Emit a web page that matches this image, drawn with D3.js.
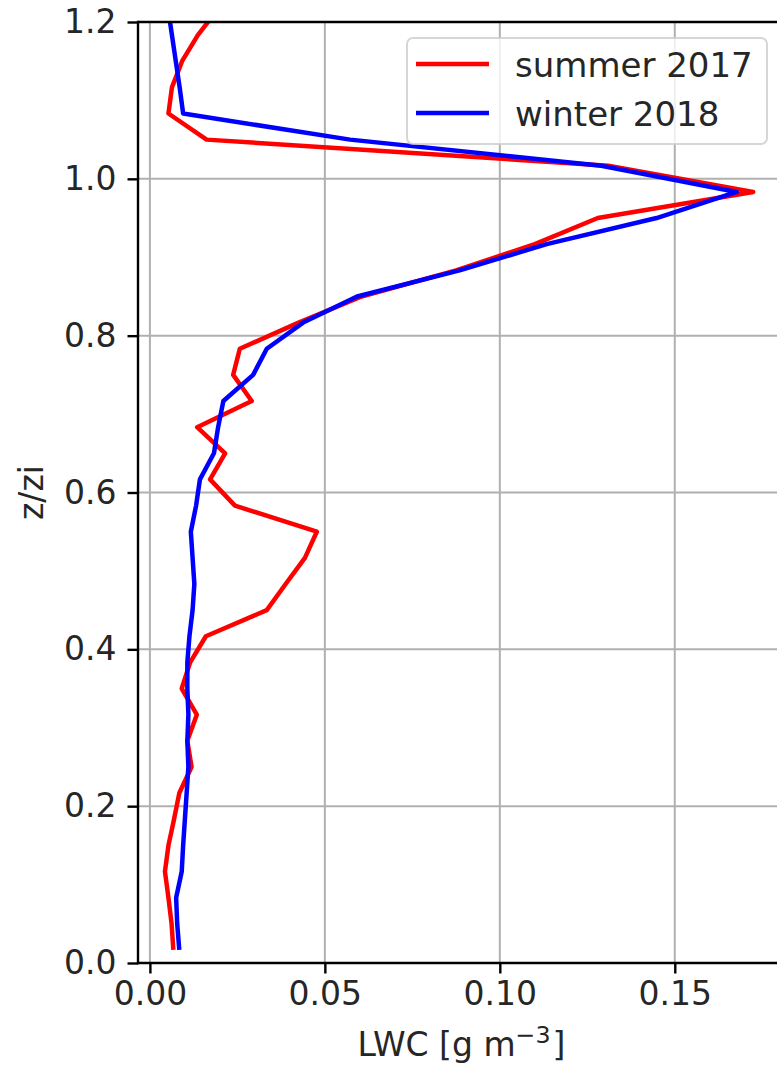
<!DOCTYPE html>
<html>
<head>
<meta charset="utf-8">
<script src="https://cdn.jsdelivr.net/npm/d3@7"></script>
<style>
  html, body { margin: 0; padding: 0; background: #fff; }
  svg { display: block; font-family: "DejaVu Sans", sans-serif; }
</style>
</head>
<body>
<svg id="chart" width="777" height="1065"></svg>
<script>
// Normalised height z/zi of each profile bin
const zLevels = [0.0167, 0.05, 0.0833, 0.1167, 0.15, 0.1833, 0.2167, 0.25, 0.2833, 0.3167,
                 0.35, 0.3833, 0.4167, 0.45, 0.4833, 0.5167, 0.55, 0.5833, 0.6167, 0.65,
                 0.6833, 0.7167, 0.75, 0.7833, 0.8167, 0.85, 0.8833, 0.9167, 0.95, 0.9833,
                 1.0167, 1.05, 1.0833, 1.1167, 1.15, 1.1833, 1.2167];

// Mean liquid water content [g m^-3] per bin
const summer2017 = [0.0067, 0.0062, 0.0053, 0.0043, 0.0053, 0.0069, 0.0084, 0.0119, 0.0107, 0.0134,
                    0.0091, 0.0115, 0.0160, 0.0334, 0.0388, 0.0443, 0.0477, 0.0243, 0.0172, 0.0215,
                    0.0135, 0.0291, 0.0238, 0.0257, 0.0425, 0.0605, 0.0875, 0.1100, 0.1280, 0.1724,
                    0.1310, 0.0162, 0.0053, 0.0063, 0.0092, 0.0137, 0.0195];

const winter2018 = [0.0084, 0.0078, 0.0075, 0.0091, 0.0095, 0.0100, 0.0105, 0.0110, 0.0107, 0.0110,
                    0.0107, 0.0107, 0.0113, 0.0122, 0.0127, 0.0122, 0.0117, 0.0132, 0.0143, 0.0183,
                    0.0195, 0.0210, 0.0295, 0.0334, 0.0438, 0.0592, 0.0885, 0.1134, 0.1448, 0.1677,
                    0.1290, 0.0572, 0.0095, 0.0085, 0.0074, 0.0063, 0.0052];

const seriesNames = ["summer 2017", "winter 2018"];
const seriesColors = ["#ff0000", "#0000ff"];

const xTicks = [0.00, 0.05, 0.10, 0.15];
const yTicks = [0.0, 0.2, 0.4, 0.6, 0.8, 1.0, 1.2];
const xDomain = [-0.0034, 0.1815];
const yDomain = [0, 1.2];

const svg = d3.select("#chart");
const plotL = 138, plotR = 785, plotT = 22, plotB = 963;
const fs = 33;

const x = d3.scaleLinear().domain(xDomain).range([plotL, plotR]);
const y = d3.scaleLinear().domain(yDomain).range([plotB, plotT]);

svg.append("rect").attr("width", 777).attr("height", 1065).attr("fill", "#fff");

svg.append("defs").append("clipPath").attr("id", "plotClip")
  .append("rect").attr("x", plotL).attr("y", plotT)
  .attr("width", plotR - plotL).attr("height", plotB - plotT);

// grid
const grid = svg.append("g").attr("stroke", "#b0b0b0").attr("stroke-width", 2);
grid.selectAll("line.vx").data(xTicks).join("line").attr("class", "vx")
  .attr("x1", d => x(d)).attr("x2", d => x(d)).attr("y1", plotT).attr("y2", plotB);
grid.selectAll("line.hy").data(yTicks).join("line").attr("class", "hy")
  .attr("x1", plotL).attr("x2", plotR).attr("y1", d => y(d)).attr("y2", d => y(d));

// profiles
const series = [summer2017, winter2018];
const line = d3.line().x(d => x(d[0])).y(d => y(d[1]));
const lines = svg.append("g").attr("clip-path", "url(#plotClip)");
series.forEach((vals, i) => {
  lines.append("path")
    .datum(vals.map((v, k) => [v, zLevels[k]]))
    .attr("d", line)
    .attr("fill", "none")
    .attr("stroke", seriesColors[i])
    .attr("stroke-width", 4.5)
    .attr("stroke-linejoin", "round");
});

// axes
const xAxis = d3.axisBottom(x).tickValues(xTicks).tickFormat(d3.format(".2f"))
  .tickSize(10.5).tickPadding(8.5).tickSizeOuter(0);
const gx = svg.append("g").attr("transform", `translate(0,${plotB})`).call(xAxis);
gx.select(".domain").remove();
gx.selectAll("line").attr("stroke", "#000").attr("stroke-width", 2.4);
gx.selectAll("text").attr("font-size", fs).attr("fill", "#262626")
  .attr("font-family", "DejaVu Sans");

const yAxis = d3.axisLeft(y).tickValues(yTicks).tickFormat(d3.format(".1f"))
  .tickSize(10.5).tickPadding(11).tickSizeOuter(0);
const gy = svg.append("g").attr("transform", `translate(${plotL},0)`).call(yAxis);
gy.select(".domain").remove();
gy.selectAll("line").attr("stroke", "#000").attr("stroke-width", 2.4);
gy.selectAll("text").attr("font-size", fs).attr("fill", "#262626")
  .attr("font-family", "DejaVu Sans");

// spines
const spines = svg.append("g").attr("stroke", "#000").attr("stroke-width", 2.4);
spines.append("line").attr("x1", plotL).attr("x2", plotL).attr("y1", plotT - 1.2).attr("y2", plotB + 1.2);
spines.append("line").attr("x1", plotL).attr("x2", plotR).attr("y1", plotB).attr("y2", plotB);
spines.append("line").attr("x1", plotL).attr("x2", plotR).attr("y1", plotT).attr("y2", plotT);
spines.append("line").attr("x1", plotR).attr("x2", plotR).attr("y1", plotT).attr("y2", plotB);

// axis titles
const xl = svg.append("text").attr("x", (plotL + plotR) / 2).attr("y", 1056)
  .attr("text-anchor", "middle").attr("font-size", fs).attr("fill", "#262626");
xl.append("tspan").text("LWC [g m");
xl.append("tspan").attr("font-size", fs * 0.72).attr("dy", -13).text("\u22123");
xl.append("tspan").attr("dx", 2).attr("dy", 13).text("]");

svg.append("text")
  .attr("transform", `translate(43,${(plotT + plotB) / 2}) rotate(-90)`)
  .attr("text-anchor", "middle").attr("font-size", fs).attr("fill", "#262626")
  .text("z/zi");

// legend
const lg = svg.append("g");
lg.append("rect").attr("x", 407).attr("y", 38).attr("width", 360).attr("height", 106)
  .attr("rx", 6).attr("fill", "#fff").attr("fill-opacity", 0.8)
  .attr("stroke", "#cccccc").attr("stroke-opacity", 0.8).attr("stroke-width", 2);
seriesNames.forEach((name, i) => {
  const cy = 64 + i * 49;
  lg.append("line").attr("x1", 416).attr("x2", 489).attr("y1", cy).attr("y2", cy)
    .attr("stroke", seriesColors[i]).attr("stroke-width", 4.5);
  lg.append("text").attr("x", 515).attr("y", cy + 12.5)
    .attr("font-size", 34).attr("fill", "#262626").text(name);
});
</script>
</body>
</html>
